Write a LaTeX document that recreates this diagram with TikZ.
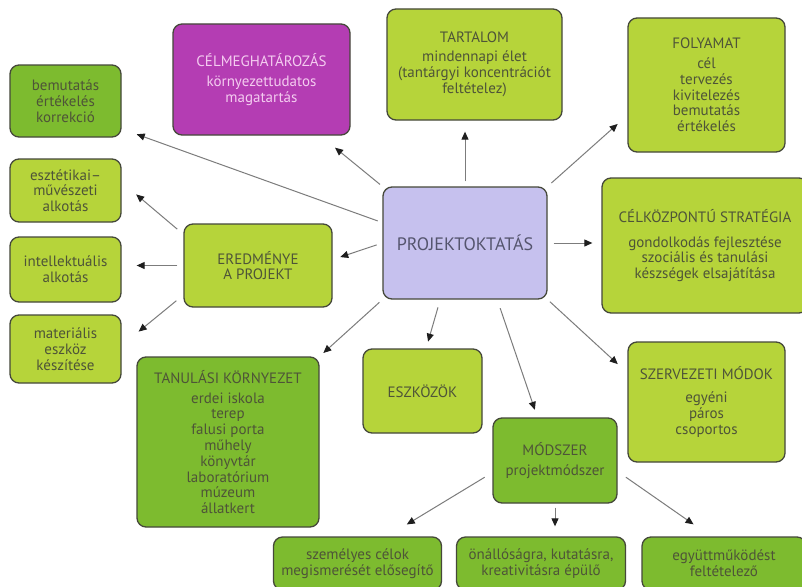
\documentclass[tikz,border=0pt]{standalone}
\usepackage{fontspec}
\setmainfont{PT Sans}
\usetikzlibrary{calc,arrows.meta}
\definecolor{cLime}{HTML}{B6D43A}
\definecolor{cGreen}{HTML}{7DBB2F}
\definecolor{cMag}{HTML}{B43DB3}
\definecolor{cLav}{HTML}{C6C1EE}
\definecolor{cBorder}{HTML}{45483A}
\definecolor{cText}{HTML}{4E5438}
\definecolor{cPink}{HTML}{F4CCF0}
\definecolor{cProjText}{HTML}{55556E}
\definecolor{cLine}{HTML}{7C7C7C}
\definecolor{cTip}{HTML}{1E1E1E}
\tikzset{
  box/.style={draw=cBorder, line width=1.3pt, rounded corners=9pt, inner sep=0pt,
    align=center, text=cText, font=\fontsize{15}{15.8}\selectfont},
  limebox/.style={box, fill=cLime},
  greenbox/.style={box, fill=cGreen},
  arr/.style={draw=cLine, line width=1pt, -{Triangle[length=8pt,width=7pt,color=cTip]}}
}
\begin{document}
\begin{tikzpicture}[x=1pt,y=-1pt]
\useasboundingbox (0,0) rectangle (802,586);
\fill[white] (0,0) rectangle (802,586);
\clip (0,0) rectangle (802,586);

% left column
\node[greenbox, minimum width=111pt, minimum height=72pt] (bem) at (65.5,101) {bemutatás\\értékelés\\korrekció};
\node[limebox, minimum width=111pt, minimum height=63pt] (eszt) at (65.5,190.5) {esztétikai–\\művészeti\\alkotás};
\node[limebox, minimum width=111pt, minimum height=65pt] (int) at (65.5,269.5) {intellektuális\\alkotás};
\node[limebox, minimum width=111pt, minimum height=68pt] (mat) at (65.5,349) {materiális\\eszköz\\készítése};

% top row
\node[box, fill=cMag, text=cPink, minimum width=177pt, minimum height=111pt] (cel) at (261.5,79.5) {CÉLMEGHATÁROZÁS\\[5pt]környezettudatos\\magatartás};
\node[limebox, minimum width=175pt, minimum height=111pt] (tart) at (474.5,64.5) {TARTALOM\\[3pt]mindennapi élet\\(tantárgyi koncentrációt\\feltételez)};
\node[limebox, minimum width=157pt, minimum height=134pt] (foly) at (706.5,85) {FOLYAMAT\\[4pt]cél\\tervezés\\kivitelezés\\bemutatás\\értékelés};

% middle
\node[limebox, minimum width=148pt, minimum height=83pt] (ered) at (258,265.5) {EREDMÉNYE\\A PROJEKT};
\node[box, fill=cLav, text=cProjText, font=\fontsize{18}{20}\selectfont, minimum width=164pt, minimum height=112pt] (proj) at (465,243) {PROJEKTOKTATÁS};
\node[limebox, minimum width=206pt, minimum height=135pt] (celk) at (705,245.5) {CÉLKÖZPONTÚ STRATÉGIA\\[9pt]gondolkodás fejlesztése\\szociális és tanulási\\készségek elsajátítása};

% lower
\node[greenbox, minimum width=182pt, minimum height=170pt] (tan) at (228,442) {TANULÁSI KÖRNYEZET\\[4pt]erdei iskola\\terep\\falusi porta\\műhely\\könyvtár\\laboratórium\\múzeum\\állatkert};
\node[limebox, minimum width=119pt, minimum height=84pt] (eszk) at (422.5,391) {ESZKÖZÖK};
\node[limebox, minimum width=157pt, minimum height=120pt] (szerv) at (706.5,402) {SZERVEZETI MÓDOK\\[7pt]egyéni\\páros\\csoportos};
\node[greenbox, minimum width=124pt, minimum height=85pt] (mod) at (555,460.5) {MÓDSZER\\[4pt]projektmódszer};

% bottom row
\node[greenbox, minimum width=168pt, minimum height=53pt] (szem) at (357.5,563.5) {személyes célok\\megismerését elősegítő};
\node[greenbox, minimum width=169pt, minimum height=53pt] (onal) at (541,563.5) {önállóságra, kutatásra,\\kreativitásra épülő};
\node[greenbox, minimum width=164pt, minimum height=53pt] (egy) at (724,563.5) {együttműködést\\feltételező};

% arrows from PROJEKTOKTATÁS
\draw[arr, shorten <=5pt, shorten >=16pt] ($(proj.south west)!0.68!(proj.north west)$) -- ($(bem.south east)!0.12!(bem.north east)$);
\draw[arr, shorten <=3pt, shorten >=19pt] (proj.north west) -- ($(cel.south west)!0.83!(cel.south east)$);
\draw[arr, shorten <=5pt, shorten >=11pt] (proj.north) -- (proj.north |- tart.south);
\draw[arr, shorten <=5pt, shorten >=13pt] (proj.north east) -- ($(foly.south west)!0.276!(foly.north west)$);
\draw[arr, shorten <=6pt, shorten >=9pt] (proj.east) -- (proj.east -| celk.west);
\draw[arr, shorten <=6pt, shorten >=8pt] (proj.west) -- ($(ered.south east)!0.57!(ered.north east)$);
\draw[arr, shorten <=4pt, shorten >=5pt] (proj.south west) -- (tan.north east);
\draw[arr, shorten <=8pt, shorten >=7pt] ($(proj.south west)!0.35!(proj.south east)$) -- ($(eszk.north west)!0.53!(eszk.north east)$);
\draw[arr, shorten <=9pt, shorten >=8pt] ($(proj.south west)!0.695!(proj.south east)$) -- ($(mod.north west)!0.36!(mod.north east)$);
\draw[arr, shorten <=3pt, shorten >=13pt] (proj.south east) -- ($(szerv.north west)!0.26!(szerv.south west)$);

% arrows from EREDMÉNYE
\draw[arr, shorten <=8pt, shorten >=19pt] ($(ered.north west)!0.13!(ered.south west)$) -- ($(eszt.north east)!0.37!(eszt.south east)$);
\draw[arr, shorten <=6pt, shorten >=15pt] (ered.west) -- (ered.west -| int.east);
\draw[arr, shorten <=9pt, shorten >=22pt] ($(ered.north west)!0.85!(ered.south west)$) -- ($(mat.north east)!0.45!(mat.south east)$);

% arrows from MÓDSZER
\draw[arr, shorten <=9pt, shorten >=23pt] ($(mod.north west)!0.64!(mod.south west)$) -- ($(szem.north west)!0.675!(szem.north east)$);
\draw[arr, shorten <=4pt, shorten >=10pt] (mod.south) -- (mod.south |- onal.north);
\draw[arr, shorten <=10pt, shorten >=21pt] ($(mod.north east)!0.627!(mod.south east)$) -- ($(egy.north west)!0.42!(egy.north east)$);
\end{tikzpicture}
\end{document}
